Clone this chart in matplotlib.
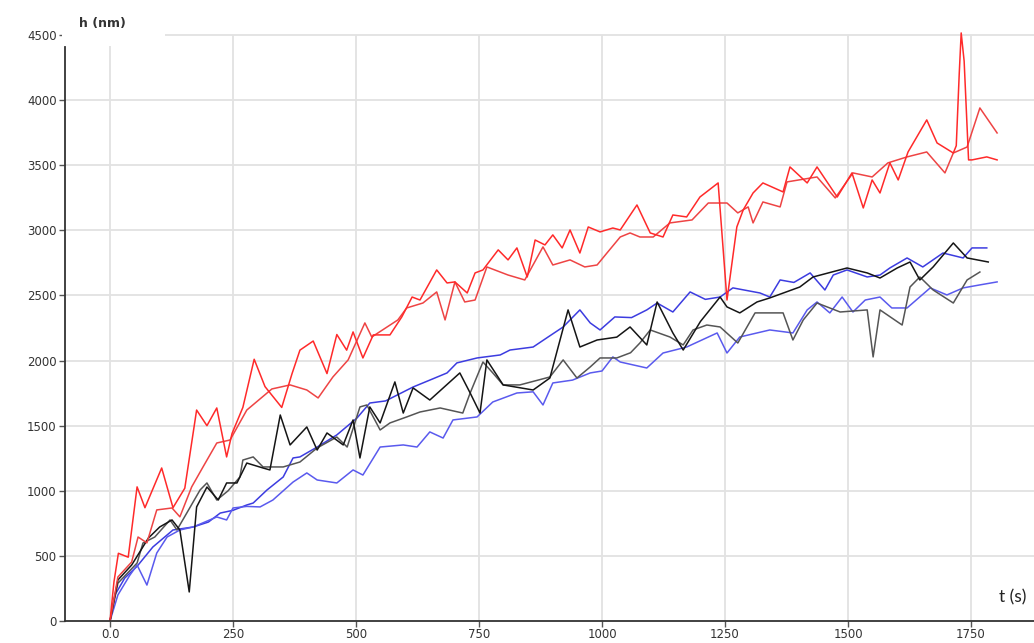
import matplotlib
matplotlib.use("Agg")
import matplotlib.pyplot as plt
from matplotlib.patches import Rectangle

# red pair (high series)
red1_t = [0, 8, 17, 37, 55, 71, 105, 128, 152, 176, 197, 217, 237, 248, 270, 293, 315, 349, 370, 386,
          413, 441, 461, 481, 494, 514, 535, 569, 593, 614, 630, 664, 685, 701, 726, 742, 758, 789, 809,
          827, 848, 864, 884, 900, 919, 935, 955, 972, 996, 1022, 1037, 1071, 1098, 1124, 1144, 1172,
          1199, 1236, 1254, 1274, 1287, 1307, 1327, 1368, 1382, 1417, 1437, 1478, 1508, 1531, 1549,
          1565, 1585, 1602, 1622, 1660, 1681, 1714, 1720, 1726, 1730, 1736, 1745, 1752, 1782, 1803]
red1_h = [0, 300, 520, 490, 1030, 870, 1175, 870, 1020, 1620, 1500, 1636, 1260, 1440, 1640, 2010, 1800,
          1640, 1900, 2080, 2150, 1900, 2200, 2080, 2220, 2020, 2197, 2197, 2335, 2488, 2465, 2696, 2596,
          2604, 2519, 2673, 2696, 2850, 2773, 2865, 2642, 2926, 2888, 2965, 2865, 3003, 2826, 3026, 2988,
          3018, 3003, 3195, 2980, 2949, 3118, 3103, 3256, 3364, 2465, 3026, 3157, 3287, 3364, 3295, 3487,
          3364, 3487, 3256, 3441, 3172, 3387, 3287, 3518, 3387, 3602, 3848, 3671, 3594, 3650, 4200, 4516,
          4300, 3541, 3541, 3564, 3541]

red2_t = [0, 16, 44, 57, 75, 95, 126, 142, 166, 189, 217, 244, 278, 329, 366, 400, 423, 453, 484, 518,
          532, 585, 603, 636, 664, 681, 701, 721, 742, 766, 809, 843, 880, 900, 935, 965, 990, 1010, 1037,
          1057, 1077, 1104, 1138, 1183, 1216, 1254, 1276, 1297, 1307, 1327, 1362, 1376, 1437, 1474, 1510,
          1549, 1581, 1620, 1660, 1697, 1714, 1742, 1768, 1803]
red2_h = [0, 338, 453, 645, 600, 853, 868, 800, 1030, 1183, 1367, 1390, 1620, 1782, 1813, 1774, 1713,
          1874, 2005, 2289, 2181, 2312, 2404, 2442, 2527, 2312, 2604, 2450, 2465, 2719, 2657, 2619, 2873,
          2734, 2773, 2719, 2734, 2826, 2949, 2980, 2949, 2949, 3057, 3080, 3210, 3210, 3134, 3180, 3057,
          3218, 3180, 3372, 3410, 3249, 3441, 3410, 3518, 3564, 3602, 3441, 3594, 3640, 3940, 3748]

# blue pair
blue1_t = [0, 10, 30, 55, 87, 128, 169, 200, 224, 250, 278, 291, 319, 352, 372, 386, 421, 461, 502, 528,
           560, 616, 650, 685, 705, 746, 793, 813, 860, 890, 921, 955, 976, 996, 1026, 1060, 1091, 1112,
           1144, 1179, 1210, 1240, 1266, 1321, 1341, 1362, 1390, 1423, 1453, 1470, 1498, 1539, 1565, 1585,
           1620, 1652, 1693, 1734, 1752, 1782]
blue1_h = [0, 200, 330, 420, 568, 699, 722, 760, 829, 850, 891, 906, 1006, 1106, 1252, 1260, 1336, 1429,
           1559, 1674, 1690, 1797, 1850, 1905, 1982, 2020, 2043, 2081, 2104, 2180, 2258, 2389, 2289, 2235,
           2335, 2330, 2389, 2442, 2373, 2527, 2470, 2488, 2558, 2519, 2488, 2619, 2600, 2673, 2542, 2657,
           2696, 2642, 2657, 2711, 2788, 2719, 2826, 2788, 2865, 2865]

blue2_t = [0, 16, 40, 55, 75, 95, 116, 142, 169, 217, 237, 250, 278, 305, 331, 372, 400, 421, 461, 494,
           514, 549, 596, 624, 650, 677, 697, 746, 778, 827, 860, 880, 900, 940, 976, 1000, 1022, 1037, 1091,
           1124, 1172, 1234, 1254, 1280, 1341, 1388, 1417, 1437, 1463, 1488, 1510, 1535, 1565, 1589, 1620,
           1667, 1701, 1734, 1768, 1803]
blue2_h = [0, 200, 350, 430, 276, 522, 645, 699, 722, 799, 776, 868, 880, 876, 929, 1067, 1137, 1083, 1060,
           1160, 1121, 1336, 1352, 1336, 1452, 1405, 1544, 1567, 1682, 1751, 1760, 1659, 1828, 1850, 1905,
           1920, 2028, 1989, 1943, 2058, 2104, 2212, 2058, 2181, 2235, 2212, 2389, 2450, 2366, 2488, 2373,
           2465, 2488, 2404, 2404, 2558, 2504, 2558, 2581, 2604]

# black pair
black1_t = [0, 16, 44, 78, 101, 126, 142, 161, 176, 197, 220, 237, 258, 278, 311, 325, 346, 366, 400, 421,
            441, 474, 494, 508, 528, 549, 579, 596, 616, 650, 711, 732, 752, 766, 799, 860, 894, 931, 955,
            990, 1030, 1057, 1091, 1112, 1144, 1165, 1200, 1240, 1254, 1280, 1315, 1341, 1402, 1429, 1498,
            1539, 1565, 1600, 1626, 1646, 1673, 1714, 1742, 1785]
black1_h = [0, 315, 430, 637, 722, 776, 699, 223, 876, 1029, 929, 1060, 1060, 1213, 1175, 1160, 1582, 1352,
            1490, 1313, 1444, 1352, 1544, 1252, 1644, 1521, 1836, 1597, 1790, 1697, 1905, 1751, 1597, 2005,
            1813, 1774, 1866, 2389, 2104, 2158, 2180, 2258, 2120, 2450, 2212, 2081, 2300, 2488, 2412, 2366,
            2450, 2481, 2565, 2642, 2711, 2673, 2634, 2711, 2757, 2619, 2719, 2903, 2788, 2757]

black2_t = [0, 16, 55, 67, 91, 122, 136, 156, 183, 197, 217, 240, 264, 270, 291, 311, 352, 386, 421, 461,
            482, 508, 522, 549, 569, 603, 630, 671, 717, 732, 758, 778, 799, 833, 894, 921, 949, 976, 996,
            1030, 1058, 1077, 1098, 1138, 1165, 1185, 1213, 1240, 1276, 1311, 1368, 1388, 1409, 1437, 1484,
            1539, 1551, 1565, 1610, 1626, 1646, 1673, 1714, 1742, 1768]
black2_h = [0, 290, 445, 599, 645, 776, 699, 829, 1006, 1060, 929, 1000, 1106, 1236, 1260, 1183, 1183, 1221,
            1329, 1413, 1336, 1644, 1659, 1467, 1521, 1567, 1605, 1636, 1597, 1751, 1989, 1905, 1813, 1813,
            1874, 2005, 1866, 1951, 2020, 2020, 2060, 2135, 2235, 2181, 2120, 2235, 2273, 2258, 2135, 2366,
            2366, 2158, 2312, 2442, 2373, 2389, 2028, 2389, 2273, 2565, 2642, 2542, 2442, 2619, 2680]

x_ticks = [0, 250, 500, 750, 1000, 1250, 1500, 1750]
x_labels = ["0.0", "250", "500", "750", "1000", "1250", "1500", "1750"]
y_ticks = [0, 500, 1000, 1500, 2000, 2500, 3000, 3500, 4000, 4500]

W, H = 1034, 643
fig = plt.figure(figsize=(W / 100, H / 100), dpi=100)
ax = fig.add_axes([65 / W, 22 / H, (W - 65) / W, (621 - 22) / H])
ax.set_xlim(-91.5, 1878)
ax.set_ylim(0, 4600)

# grid: horizontal full width, vertical only up to 4500
for y in y_ticks[1:]:
    ax.axhline(y, color="#e2e2e2", lw=1.3, zorder=0)
ax.vlines(x_ticks, 0, 4500, color="#e2e2e2", lw=1.3, zorder=0)

lw = 1.1
ax.plot(blue1_t, blue1_h, color="#3c3ce0", lw=lw)
ax.plot(blue2_t, blue2_h, color="#5a5aee", lw=lw)
ax.plot(black2_t, black2_h, color="#555555", lw=lw)
ax.plot(black1_t, black1_h, color="#151515", lw=lw)
ax.plot(red2_t, red2_h, color="#ee4444", lw=lw)
ax.plot(red1_t, red1_h, color="#ff2a2a", lw=lw)

for s in ["top", "right"]:
    ax.spines[s].set_visible(False)
ax.spines["left"].set_bounds(0, 4410)
ax.spines["left"].set_color("#333333")
ax.spines["bottom"].set_color("#333333")
ax.spines["left"].set_linewidth(1.3)
ax.spines["bottom"].set_linewidth(1.3)

ax.set_xticks(x_ticks)
ax.set_xticklabels(x_labels)
ax.set_yticks(y_ticks)
ax.tick_params(direction="out", length=4, width=1, color="#555555",
               labelsize=8.5, labelcolor="#333333", pad=2)
ax.tick_params(axis="x", pad=1)

# axis titles
fig.patches.append(Rectangle((62 / W, 1 - 46 / H), 103 / W, 36 / H, transform=fig.transFigure,
                             facecolor="white", edgecolor="none", zorder=2))
fig.text(79 / W, 1 - 23 / H, "h (nm)", fontsize=9, fontweight="bold", color="#333333",
         va="center", ha="left", zorder=3)
fig.text(999 / W, 1 - 597 / H, "t (s)", fontsize=12.5, family="Lato", color="#222222",
         va="center", ha="left")

fig.savefig("out.png", dpi=100)
